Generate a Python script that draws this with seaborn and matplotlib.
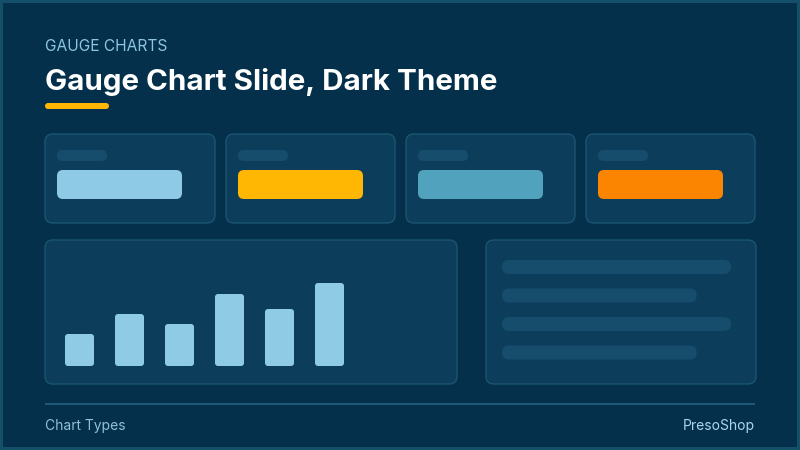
import matplotlib
matplotlib.use("Agg")
import matplotlib.pyplot as plt
from matplotlib.patches import FancyBboxPatch, Rectangle
import seaborn as sns
import pandas as pd

# slide data
kicker = "GAUGE CHARTS"
title = "Gauge Chart Slide, Dark Theme"
footer_left = "Chart Types"
footer_right = "PresoShop"

card_colors = ["#8ecae6", "#ffb703", "#51a2bd", "#fb8500"]
bar_labels = ["A", "B", "C", "D", "E", "F"]
bar_values = [32, 52, 42, 72, 57, 83]
text_lines = [1.0, 0.85, 1.0, 0.85]  # relative lengths of placeholder lines

BG = "#04304b"
CARD = "#0c3d5a"
EDGE = "#1b5571"
PILL = "#174d6c"

sns.set_style("white")
plt.rcParams["font.family"] = ["Inter", "DejaVu Sans"]

fig = plt.figure(figsize=(8, 4.5), dpi=100)
fig.patch.set_facecolor("#14506a")
ax = fig.add_axes([0, 0, 1, 1])
ax.set_xlim(0, 800)
ax.set_ylim(450, 0)
ax.axis("off")


def rbox(x0, y0, x1, y1, r, **kw):
    p = FancyBboxPatch((x0 + r, y0 + r), (x1 - x0) - 2 * r, (y1 - y0) - 2 * r,
                       boxstyle="round,pad=%f,rounding_size=%f" % (r, r), **kw)
    ax.add_patch(p)
    return p


# background with thin frame
ax.add_patch(Rectangle((3, 3), 794, 444, facecolor=BG, edgecolor="none"))

# header
ax.text(45, 51, kicker, color="#8ec5e2", fontsize=11.2, va="baseline", ha="left")
ax.text(45, 90, title, color="white", fontsize=21.3, fontweight="bold", va="baseline", ha="left")
rbox(45, 103, 109, 109, 3, facecolor="#ffb703", edgecolor="none")

# kpi cards
card_x = [(45, 215), (226, 395), (406, 575), (586, 755)]
for (x0, x1), c in zip(card_x, card_colors):
    rbox(x0, 134, x1, 223, 8, facecolor=CARD, edgecolor=EDGE, lw=1)
    rbox(x0 + 12, 150, x0 + 62, 161, 5.5, facecolor=PILL, edgecolor="none")
    rbox(x0 + 12, 170, x0 + 137, 199, 6, facecolor=c, edgecolor="none")

# lower panels
rbox(45, 240, 457, 384, 8, facecolor=CARD, edgecolor=EDGE, lw=1)
rbox(486, 240, 756, 384, 8, facecolor=CARD, edgecolor=EDGE, lw=1)
for i, f in enumerate(text_lines):
    yc = 267 + i * 28.5
    rbox(502, yc - 7, 502 + 229 * f, yc + 7, 7, facecolor=PILL, edgecolor="none")

# bar chart inside the left panel (1 y-unit = 1px, 1 x-unit = 50px)
bax = fig.add_axes([45 / 800, (450 - 366) / 450, (457 - 45) / 800, (366 - 250) / 450])
df = pd.DataFrame({"label": bar_labels, "value": bar_values})
sns.barplot(data=df, x="label", y="value", color="#90cbe6", width=0.58,
            saturation=1, ax=bax)
bax.set_xlim(-(79.5 - 45) / 50, (457 - 79.5) / 50)
bax.set_ylim(0, 116)
bax.axis("off")
bax.patch.set_alpha(0)
for p in list(bax.patches):
    x, y, w, h = p.get_x(), p.get_y(), p.get_width(), p.get_height()
    p.set_visible(False)
    rp = FancyBboxPatch((x + 0.06, y + 3), w - 0.12, h - 6,
                        boxstyle="round,pad=0.06,rounding_size=0.06",
                        mutation_aspect=50, facecolor="#90cbe6", edgecolor="none")
    bax.add_patch(rp)

# footer
ax.plot([45, 755], [404, 404], color="#1d5874", lw=1.5, solid_capstyle="butt")
ax.text(45, 430, footer_left, color="#8fbfd9", fontsize=10, va="baseline", ha="left")
ax.text(755, 430, footer_right, color="#a9d6ee", fontsize=10, va="baseline", ha="right")

fig.savefig("out.png", dpi=100, facecolor=fig.get_facecolor())
